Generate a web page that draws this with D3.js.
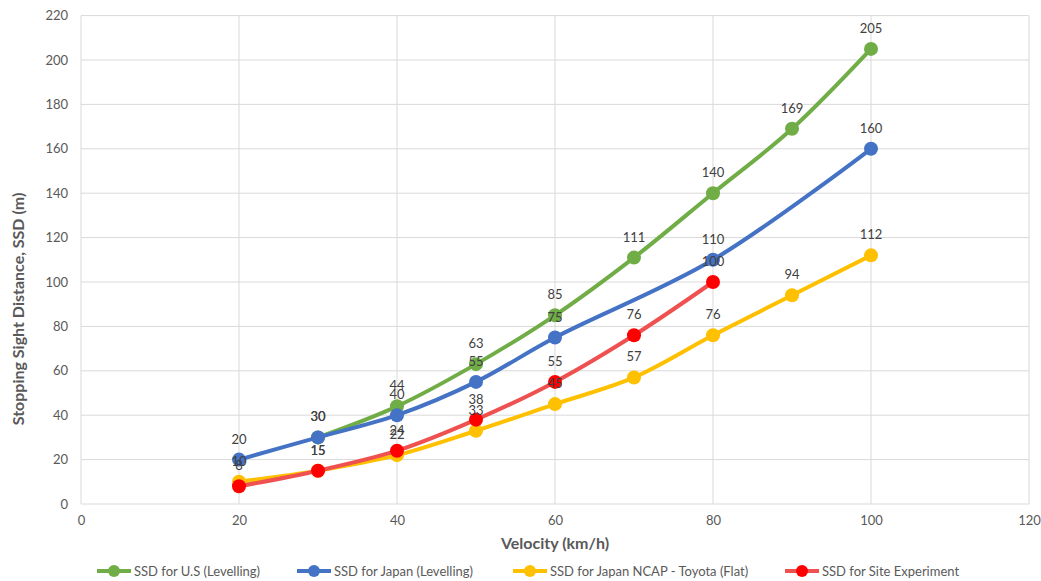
<!DOCTYPE html>
<html><head><meta charset="utf-8">
<script src="https://cdn.jsdelivr.net/npm/d3@7"></script>
<style>body{margin:0;background:#fff;font-family:Lato,"Open Sans",sans-serif;}</style>
</head><body><svg id="c" width="1041" height="581"></svg>
<script>
const seriesNames = ["SSD for U.S (Levelling)","SSD for Japan (Levelling)","SSD for Japan NCAP - Toyota (Flat)","SSD for Site Experiment"];
const usX = [30,40,50,60,70,80,90,100];
const usY = [30,44,63,85,111,140,169,205];
const jpX = [20,30,40,50,60,80,100];
const jpY = [20,30,40,55,75,110,160];
const ncapX = [20,30,40,50,60,70,80,90,100];
const ncapY = [10,15,22,33,45,57,76,94,112];
const siteX = [20,30,40,50,60,70,80];
const siteY = [8,15,24,38,55,76,100];
const xTicks = [0,20,40,60,80,100,120];
const yTicks = [0,20,40,60,80,100,120,140,160,180,200,220];

const series = [
  {name:seriesNames[0], xs:usX, ys:usY, line:"#70ad47", mark:"#70ad47"},
  {name:seriesNames[1], xs:jpX, ys:jpY, line:"#4472c4", mark:"#4472c4"},
  {name:seriesNames[2], xs:ncapX, ys:ncapY, line:"#ffc000", mark:"#ffc000"},
  {name:seriesNames[3], xs:siteX, ys:siteY, line:"#ef5050", mark:"#ff0000"}
];

const svg = d3.select("#c");
const x = d3.scaleLinear().domain([0,120]).range([81,1029]);
const y = d3.scaleLinear().domain([0,220]).range([504,15.6]);

// grid
svg.append("g").selectAll("line").data(yTicks).join("line")
  .attr("x1",x(0)).attr("x2",x(120)).attr("y1",d=>y(d)).attr("y2",d=>y(d))
  .attr("stroke","#d9d9d9").attr("stroke-width",1);
svg.append("g").selectAll("line").data(xTicks).join("line")
  .attr("y1",y(0)).attr("y2",y(220)).attr("x1",d=>x(d)).attr("x2",d=>x(d))
  .attr("stroke","#d9d9d9").attr("stroke-width",1);

// axes labels
const yAxis = svg.append("g").attr("transform",`translate(${x(0)},0)`)
  .call(d3.axisLeft(y).tickValues(yTicks).tickSize(0).tickPadding(13));
yAxis.select(".domain").remove();
yAxis.selectAll("text").attr("fill","#595959").style("font-size","13px").style("font-family","Lato,sans-serif");
const xAxis = svg.append("g").attr("transform",`translate(0,${y(0)})`)
  .call(d3.axisBottom(x).tickValues(xTicks).tickSize(0).tickPadding(12));
xAxis.select(".domain").remove();
xAxis.selectAll("text").attr("fill","#595959").style("font-size","13px").style("font-family","Lato,sans-serif");

svg.append("text").attr("x",555).attr("y",549).attr("text-anchor","middle")
  .attr("fill","#595959").style("font-size","16px").style("font-weight","bold").text("Velocity (km/h)");
svg.append("text").attr("transform","translate(24,309) rotate(-90)").attr("text-anchor","middle")
  .attr("fill","#595959").style("font-size","16px").style("font-weight","bold").text("Stopping Sight Distance, SSD (m)");

const line = d3.line().x(d=>x(d[0])).y(d=>y(d[1])).curve(d3.curveCatmullRom.alpha(0.5));

series.forEach(s=>{
  const pts = s.xs.map((v,i)=>[v,s.ys[i]]);
  svg.append("path").datum(pts).attr("d",line).attr("fill","none")
    .attr("stroke",s.line).attr("stroke-width",4).attr("stroke-linejoin","round");
  svg.append("g").selectAll("circle").data(pts).join("circle")
    .attr("cx",d=>x(d[0])).attr("cy",d=>y(d[1])).attr("r",7).attr("fill",s.mark);
});
series.forEach(s=>{
  const pts = s.xs.map((v,i)=>[v,s.ys[i]]);
  svg.append("g").selectAll("text").data(pts).join("text")
    .attr("x",d=>x(d[0])).attr("y",d=>y(d[1])-16).attr("text-anchor","middle")
    .attr("fill","#404040").style("font-size","13px").text(d=>d[1]);
});

// legend
const legX = [97,297,513,785];
const lg = svg.append("g");
series.forEach((s,i)=>{
  const g = lg.append("g").attr("transform",`translate(${legX[i]},571)`);
  g.append("line").attr("x1",0).attr("x2",34).attr("stroke",s.line).attr("stroke-width",4);
  g.append("circle").attr("cx",17).attr("r",6).attr("fill",s.mark);
  g.append("text").attr("x",37).attr("y",4.5).attr("fill","#595959").style("font-size","13px").text(s.name);
});
</script></body></html>
